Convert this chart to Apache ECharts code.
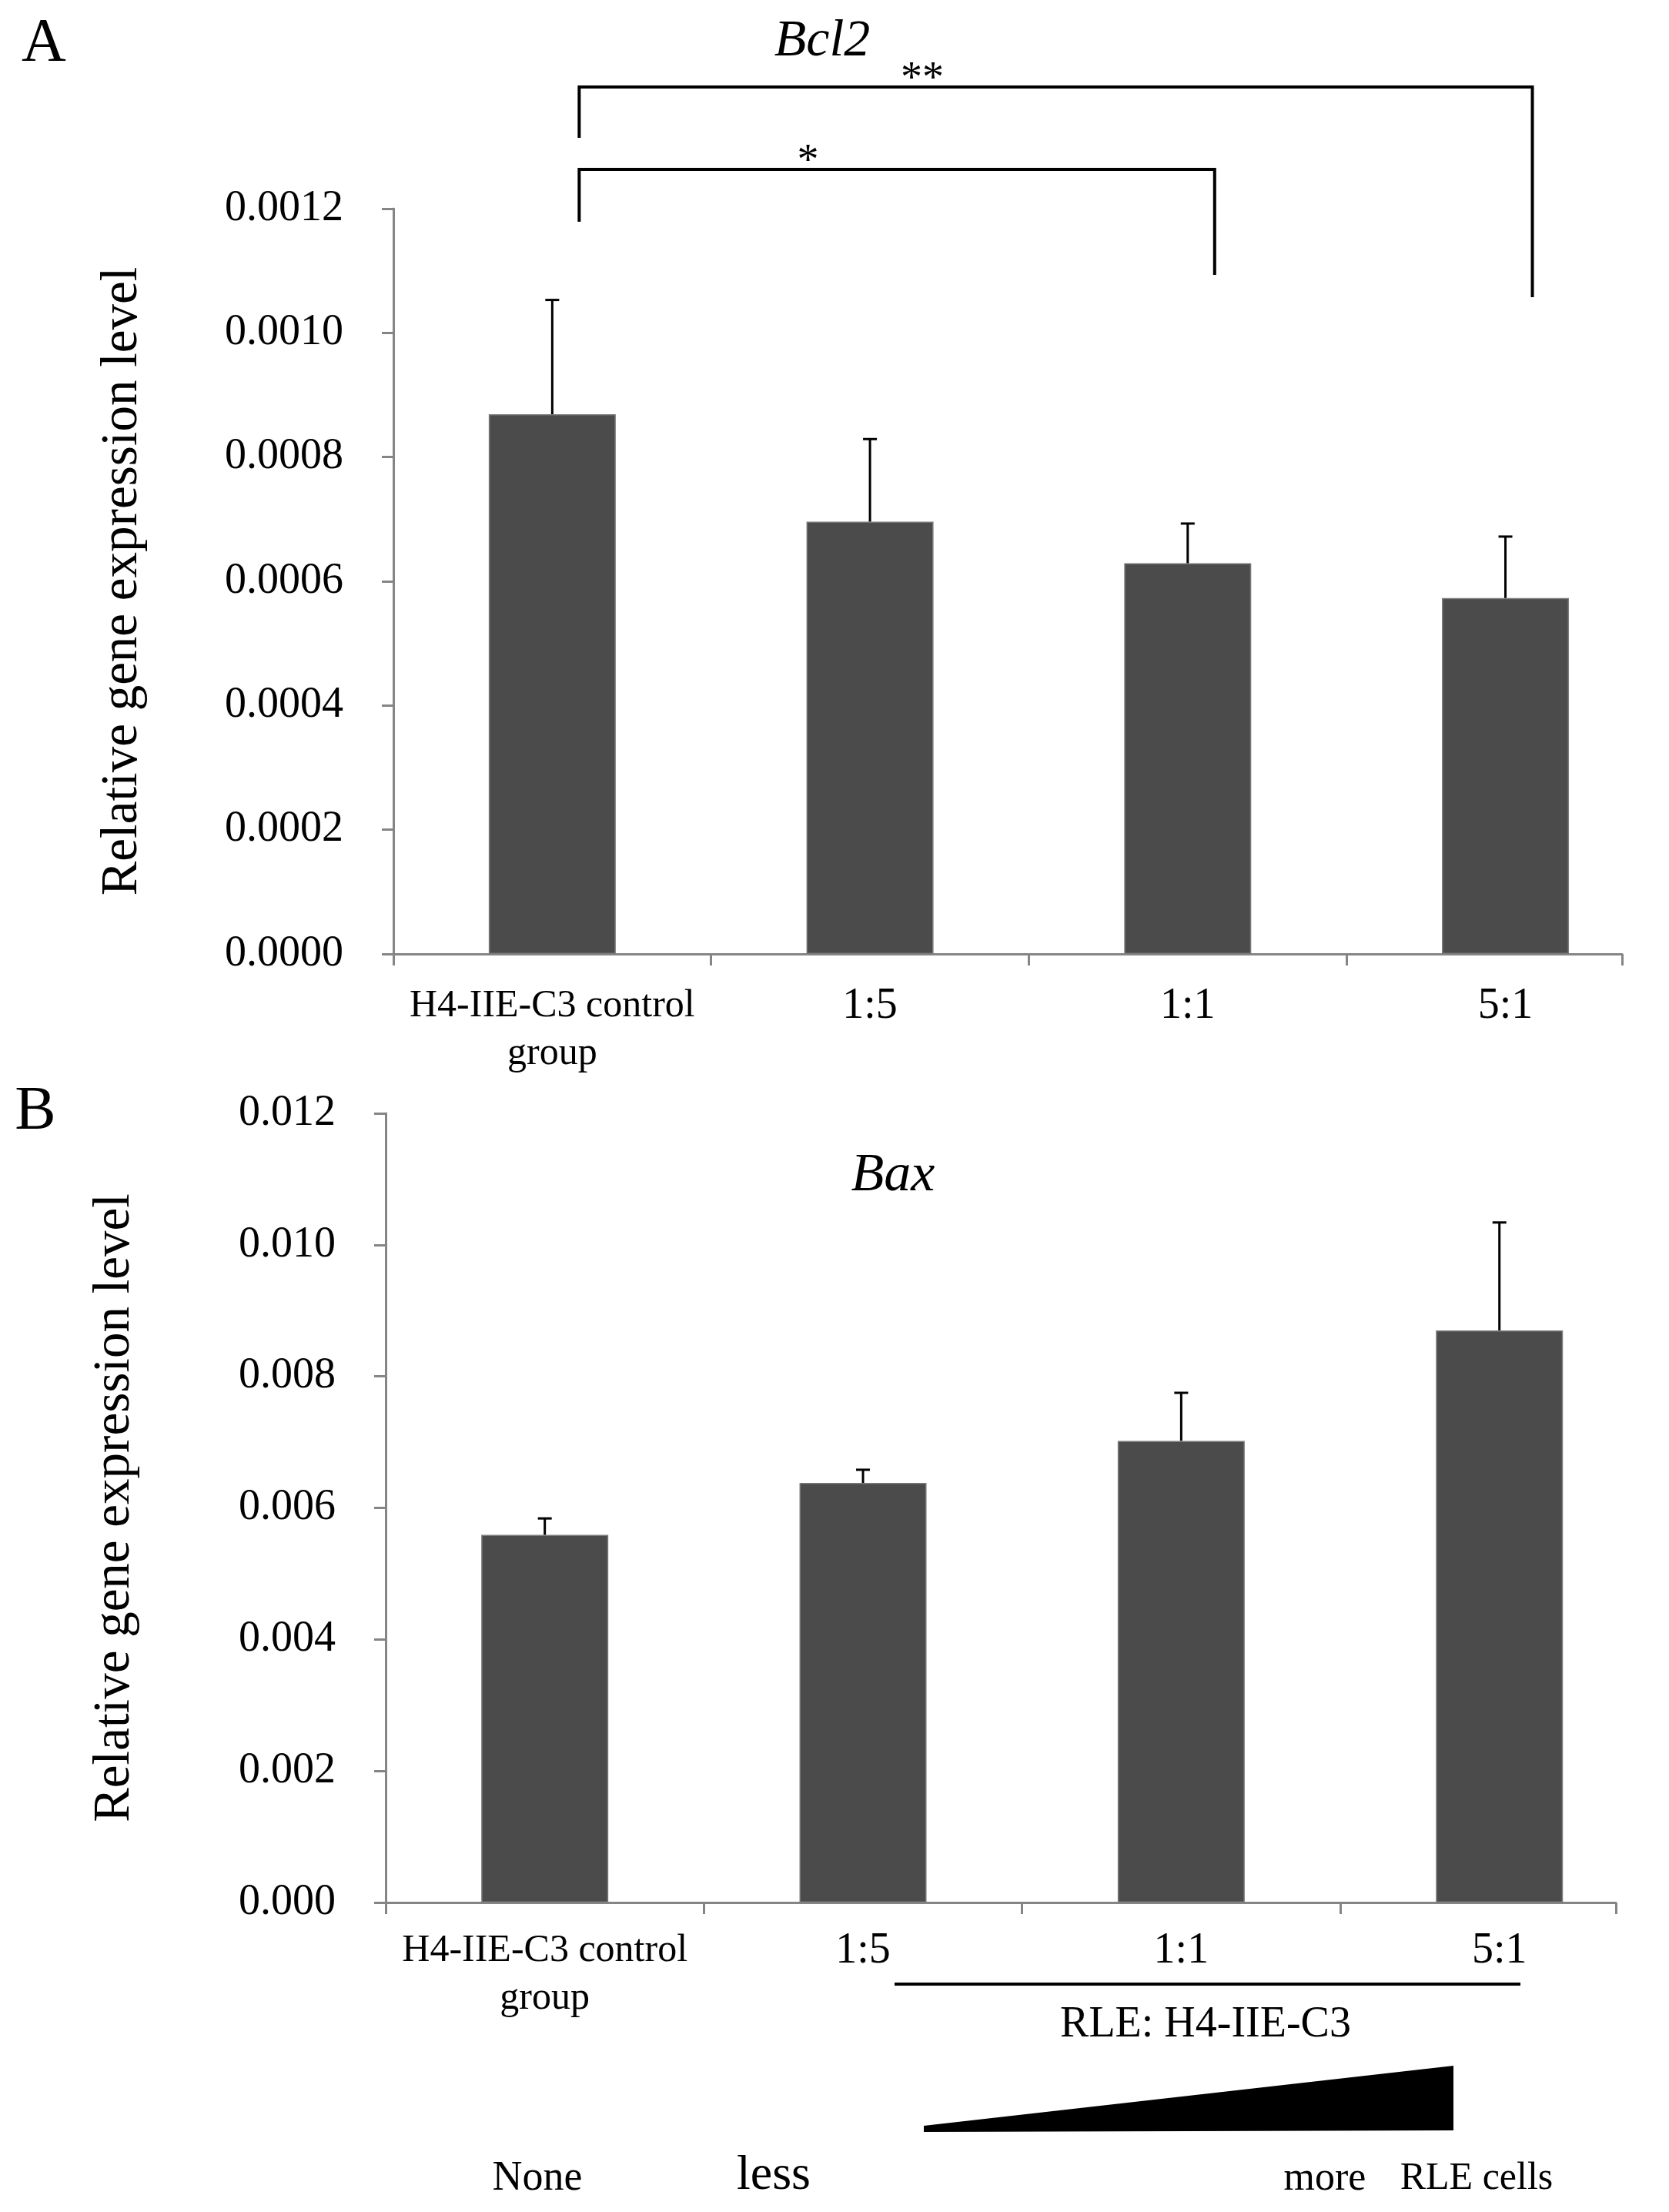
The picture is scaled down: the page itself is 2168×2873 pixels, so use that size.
<!DOCTYPE html>
<html><head><meta charset="utf-8">
<script src="https://cdn.jsdelivr.net/npm/echarts@6/dist/echarts.min.js"></script>
<style>html,body{margin:0;padding:0;background:#fff}#c{width:2168px;height:2873px}</style>
</head><body><div id="c"></div>
<script>
const categories = ['H4-IIE-C3 control\ngroup', '1:5', '1:1', '5:1'];
const bcl2Values = [0.000869, 0.000696, 0.000629, 0.000573];
const bcl2Errors = [0.000184, 0.000133, 0.000064, 0.000099];
const baxValues = [0.00559, 0.00638, 0.00702, 0.00870];
const baxErrors = [0.00025, 0.00020, 0.00073, 0.00164];
// brackets: [fromIndex, toIndex, topValue, leftLegBottom, rightLegBottom]
const bcl2Brackets = [[0, 2, 0.0012632, 0.0011789, 0.0010934], [0, 3, 0.0013959, 0.0013140, 0.0010574]];
const bcl2Marks = ['*', '**'];
const yTitle = 'Relative gene expression level';

const FF = "'Liberation Serif','Times New Roman',serif";
const AX = '#858585';
const chart = echarts.init(document.getElementById('c'), null, {renderer: 'canvas'});

const xMaxA = 3.367, xMaxB = 3.366;

function catLabel(v) {
  const name = categories[Math.round(v)] || '';
  if (name.indexOf('\n') >= 0) return name.split('\n').map(s => '{n|' + s + '}').join('\n');
  return name;
}
function xAxisCfg(grid, xMax, margin) {
  return {
    gridIndex: grid, type: 'value', min: -0.5, max: xMax,
    axisLine: {show: true, onZero: false, lineStyle: {color: AX, width: 3}},
    axisTick: {show: true, length: 15, lineStyle: {color: AX, width: 3}, customValues: [-0.5, 0.5, 1.5, 2.5, xMax]},
    axisLabel: {customValues: [0, 1, 2, 3], formatter: catLabel,
      fontSize: 56, fontFamily: FF, color: '#000', lineHeight: 62, margin: margin,
      rich: {n: {fontSize: 50, fontFamily: FF, color: '#000', lineHeight: 62}}},
    splitLine: {show: false}
  };
}
function yAxisCfg(grid, max, interval, dec) {
  return {
    gridIndex: grid, type: 'value', min: 0, max: max, interval: interval,
    axisLine: {show: true, onZero: false, lineStyle: {color: AX, width: 3}},
    axisTick: {show: true, length: 15, lineStyle: {color: AX, width: 3}},
    axisLabel: {formatter: v => v.toFixed(dec), fontSize: 56, fontFamily: FF, color: '#000', margin: 65},
    splitLine: {show: false},
    name: yTitle, nameLocation: 'middle', nameRotate: 90, nameGap: 318,
    nameTextStyle: {fontSize: 67, fontFamily: FF, color: '#000'}
  };
}
function errItem(params, api) {
  const x = api.value(0), y = api.value(1), e = api.value(2);
  const a = api.coord([x, y]), b = api.coord([x, y + e]);
  return {type: 'group', children: [
    {type: 'line', shape: {x1: a[0], y1: a[1], x2: b[0], y2: b[1]}, style: {stroke: '#000', lineWidth: 3}},
    {type: 'line', shape: {x1: b[0] - 9, y1: b[1], x2: b[0] + 9, y2: b[1]}, style: {stroke: '#000', lineWidth: 3}}
  ]};
}
function bracketItem(params, api) {
  const i0 = api.value(0), i1 = api.value(1), top = api.value(2), lb = api.value(3), rb = api.value(4);
  const off = 35;
  const t0 = api.coord([i0, top]), t1 = api.coord([i1, top]);
  const pl = api.coord([i0, lb]), pr = api.coord([i1, rb]);
  const xl = t0[0] + off, xr = t1[0] + off;
  return {type: 'group', children: [
    {type: 'polyline', shape: {points: [[xl, pl[1]], [xl, t0[1]], [xr, t0[1]], [xr, pr[1]]]},
      style: {stroke: '#000', lineWidth: 4, fill: null}},
    {type: 'text', x: xl + (xr - xl) * 0.36, y: t0[1] - 9,
      style: {text: bcl2Marks[params.dataIndex], fontSize: 56, fontFamily: FF, fill: '#000', align: 'center', verticalAlign: 'middle'}}
  ]};
}
function txt(text, x, y, size, italic) {
  return {type: 'text', x: x, y: y,
    style: {text: text, fontSize: size, fontFamily: FF, fontStyle: italic ? 'italic' : 'normal',
      fill: '#000', align: 'center', verticalAlign: 'middle'}};
}

const option = {
  backgroundColor: '#fff',
  animation: false,
  grid: [
    {left: 511, top: 271, width: 1596, height: 968},
    {left: 501, top: 1446, width: 1598, height: 1025}
  ],
  xAxis: [xAxisCfg(0, xMaxA, 37), xAxisCfg(1, xMaxB, 32)],
  yAxis: [yAxisCfg(0, 0.0012, 0.0002, 4), yAxisCfg(1, 0.012, 0.002, 3)],
  series: [
    {type: 'bar', xAxisIndex: 0, yAxisIndex: 0, barWidth: 165,
      data: bcl2Values.map((v, i) => [i, v]),
      itemStyle: {color: '#4b4b4b', borderColor: '#7a7a7a', borderWidth: 1.5}},
    {type: 'custom', xAxisIndex: 0, yAxisIndex: 0, renderItem: errItem, z: 5, clip: false,
      data: bcl2Values.map((v, i) => [i, v, bcl2Errors[i]])},
    {type: 'custom', xAxisIndex: 0, yAxisIndex: 0, renderItem: bracketItem, z: 5, clip: false,
      data: bcl2Brackets},
    {type: 'bar', xAxisIndex: 1, yAxisIndex: 1, barWidth: 165,
      data: baxValues.map((v, i) => [i, v]),
      itemStyle: {color: '#4b4b4b', borderColor: '#7a7a7a', borderWidth: 1.5}},
    {type: 'custom', xAxisIndex: 1, yAxisIndex: 1, renderItem: errItem, z: 5, clip: false,
      data: baxValues.map((v, i) => [i, v, baxErrors[i]])}
  ],
  graphic: [
    txt('A', 57, 58, 80),
    txt('B', 46, 1445, 80),
    txt('Bcl2', 1068, 54, 68, true),
    txt('Bax', 1160, 1528, 70, true),
    {type: 'line', shape: {x1: 1162, y1: 2577, x2: 1975, y2: 2577}, style: {stroke: '#000', lineWidth: 4}},
    txt('RLE: H4-IIE-C3', 1566, 2630, 56),
    {type: 'polygon', shape: {points: [[1200, 2761], [1888, 2683], [1888, 2767], [1200, 2769]]}, style: {fill: '#000'}},
    txt('None', 698, 2830, 54),
    txt('less', 1005, 2826, 64),
    txt('more', 1721, 2830, 52),
    txt('RLE cells', 1918, 2830, 50)
  ]
};
chart.setOption(option);
</script>
</body></html>
